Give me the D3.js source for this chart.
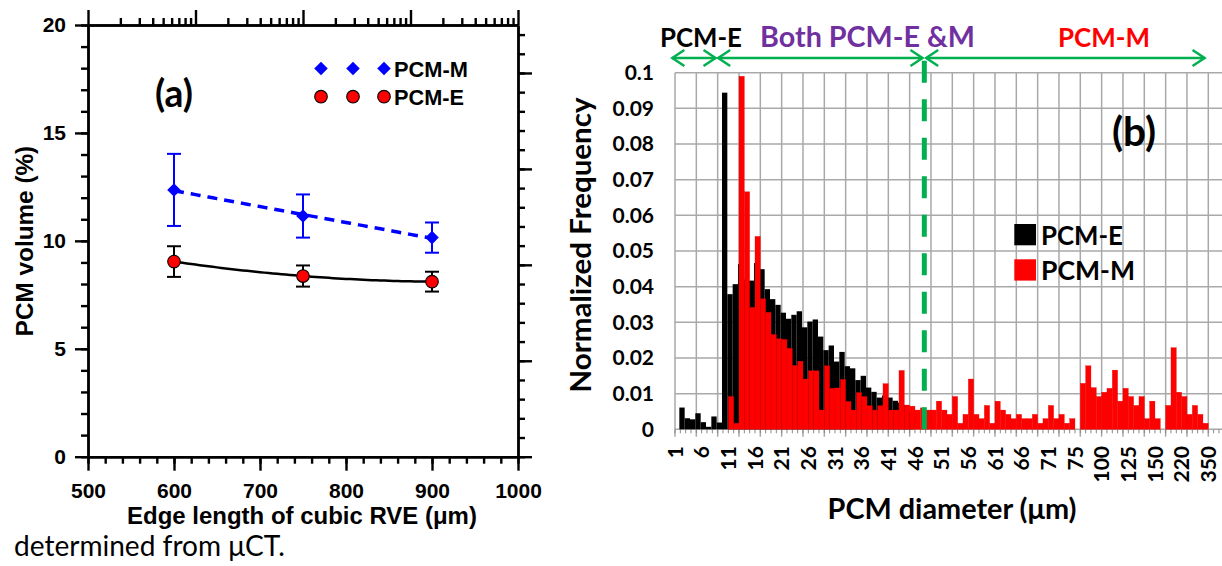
<!DOCTYPE html>
<html><head><meta charset="utf-8">
<script src="https://cdn.jsdelivr.net/npm/d3@7"></script>
<style>body{margin:0;background:#fff;} svg{display:block;}</style>
</head><body>
<svg id="chart" width="1222" height="566"></svg>
<script>
// ---------------- Panel (a) data ----------------
const rveEdge = [600, 750, 900];
const pcmMVolume = [12.36, 11.15, 10.15];
const pcmMError = [1.67, 1.0, 0.70];
const pcmEVolume = [9.04, 8.37, 8.11];
const pcmEError = [0.71, 0.49, 0.46];
const aXTicks = [500, 600, 700, 800, 900, 1000];
const aYTicks = [0, 5, 10, 15, 20];

// ---------------- Panel (b) data ----------------
// labels sit on every 5th bin edge (edges 0..100)
const diameterLabels = ["1","6","11","16","21","26","31","36","41","46","51","56","61","66","71","75","100","125","150","220","350"];
const pcmEFreq = [
 0, 0.0061, 0.0031, 0.0028, 0.0045, 0.0020, 0.0007, 0.0036, 0.0019, 0.0944,
 0.0379, 0.0407, 0.0463, 0.0420, 0.0417, 0.0466, 0.0449, 0.0393, 0.0365, 0.0349,
 0.0327, 0.0310, 0.0321, 0.0331, 0.0286, 0.0302, 0.0308, 0.0260, 0.0222, 0.0235,
 0.0190, 0.0217, 0.0177, 0.0171, 0.0138, 0.0150, 0.0117, 0.0105, 0.0089, 0.0095,
 0.0089, 0.0080, 0.0075, 0.0068, 0.0050, 0, 0, 0, 0, 0,
 0, 0, 0, 0, 0, 0, 0, 0, 0, 0,
 0, 0, 0, 0, 0, 0, 0, 0, 0, 0,
 0, 0, 0, 0, 0, 0, 0, 0, 0, 0,
 0, 0, 0, 0, 0, 0, 0, 0, 0, 0,
 0, 0, 0, 0, 0, 0, 0, 0, 0, 0];
const pcmMFreq = [
 0, 0, 0, 0, 0, 0, 0, 0, 0, 0,
 0.0092, 0.0017, 0.0990, 0.0666, 0.0342, 0.0541, 0.0366, 0.0328, 0.0266, 0.0254,
 0.0252, 0.0227, 0.0179, 0.0191, 0.0141, 0.0164, 0.0164, 0.0054, 0.0178, 0.0115,
 0.0116, 0.0140, 0.0078, 0.0054, 0.0103, 0.0092, 0.0066, 0.0054, 0.0066, 0.0128,
 0.0054, 0.0054, 0.0165, 0.0068, 0.0065, 0.0054, 0.0060, 0.0054, 0.0054, 0.0079,
 0.0054, 0.0042, 0.0092, 0.0017, 0.0042, 0.0141, 0.0042, 0.0030, 0.0067, 0.0017,
 0.0079, 0.0054, 0.0042, 0.0030, 0.0042, 0.0030, 0.0030, 0.0042, 0.0017, 0.0030,
 0.0067, 0.0030, 0.0042, 0.0017, 0.0030, 0, 0.0129, 0.0178, 0.0117, 0.0092,
 0.0104, 0.0115, 0.0166, 0.0079, 0.0115, 0.0092, 0.0067, 0.0092, 0.0030, 0.0079,
 0.0030, 0, 0.0067, 0.0229, 0.0104, 0.0092, 0.0042, 0.0067, 0.0042, 0.0017];
const freqTicks = [0, 0.01, 0.02, 0.03, 0.04, 0.05, 0.06, 0.07, 0.08, 0.09, 0.1];
const freqTickLabels = ["0","0.01","0.02","0.03","0.04","0.05","0.06","0.07","0.08","0.09","0.1"];
const seriesNames = ["PCM-E", "PCM-M"];

// ---------------- helpers ----------------
const svg = d3.select("#chart");
const ARIAL = "'Liberation Sans', Arial, sans-serif";
const CAL = "Lato, 'Open Sans', sans-serif";
function fitW(t, w) {
  const L = t.node().getComputedTextLength();
  const fs = +t.attr("font-size");
  t.attr("font-size", (fs * w / L).toFixed(2));
  return t;
}
function polyfit(xs, ys, deg) {
  const n = deg + 1;
  const A = Array.from({length: n}, () => new Array(n + 1).fill(0));
  xs.forEach((x, k) => {
    for (let i = 0; i < n; i++) {
      for (let j = 0; j < n; j++) A[i][j] += Math.pow(x, i + j);
      A[i][n] += ys[k] * Math.pow(x, i);
    }
  });
  for (let i = 0; i < n; i++) {
    let p = i;
    for (let r = i + 1; r < n; r++) if (Math.abs(A[r][i]) > Math.abs(A[p][i])) p = r;
    [A[i], A[p]] = [A[p], A[i]];
    for (let r = 0; r < n; r++) if (r !== i) {
      const f = A[r][i] / A[i][i];
      for (let c = i; c <= n; c++) A[r][c] -= f * A[i][c];
    }
  }
  const coef = A.map((row, i) => row[n] / A[i][i]);
  return x => coef.reduce((s, c, i) => s + c * Math.pow(x, i), 0);
}

// ================= Panel (a) =================
const ga = svg.append("g");
const ax = d3.scaleLinear().domain([500, 1000]).range([88, 518]);
const ay = d3.scaleLinear().domain([0, 20]).range([456.7, 25]);
const axTop = d3.scaleLog().domain([1, 1e4]).range([88, 518]);
const ayRight = d3.scaleLinear().domain([0, 4.5]).range([456.7, 25]);

function styleA(g) {
  g.selectAll("path,line").attr("stroke", "#000").attr("stroke-width", 2.4);
  g.selectAll("text").attr("font-family", ARIAL).attr("font-weight", "bold")
    .attr("font-size", 21).attr("fill", "#000");
}
// left
ga.append("g").attr("transform", "translate(88,0)")
  .call(d3.axisLeft(ay).tickValues(d3.range(0, 21)).tickSize(7).tickSizeOuter(0).tickFormat("")).call(styleA);
ga.append("g").attr("transform", "translate(88,0)")
  .call(d3.axisLeft(ay).tickValues(aYTicks).tickSize(13).tickSizeOuter(0).tickPadding(9)).call(styleA);
// bottom
ga.append("g").attr("transform", "translate(0,456.7)")
  .call(d3.axisBottom(ax).tickValues(d3.range(500, 1001, 20)).tickSize(7).tickSizeOuter(0).tickFormat("")).call(styleA);
ga.append("g").attr("transform", "translate(0,456.7)")
  .call(d3.axisBottom(ax).tickValues(aXTicks).tickFormat(d3.format("d")).tickSize(14).tickSizeOuter(0).tickPadding(12)).call(styleA);
// top (log)
const topMinor = [];
[1, 10, 100, 1000].forEach(d => { for (let m = 2; m <= 9; m++) topMinor.push(m * d); });
ga.append("g").attr("transform", "translate(0,25)")
  .call(d3.axisTop(axTop).tickValues(topMinor).tickSize(7).tickSizeOuter(0).tickFormat("")).call(styleA);
ga.append("g").attr("transform", "translate(0,25)")
  .call(d3.axisTop(axTop).tickValues([1, 10, 100, 1000, 10000]).tickSize(15).tickSizeOuter(0).tickFormat("")).call(styleA);
// right
ga.append("g").attr("transform", "translate(518,0)")
  .call(d3.axisRight(ayRight).tickValues(d3.range(0, 23).map(i => i * 0.2)).tickSize(7).tickSizeOuter(0).tickFormat("")).call(styleA);
ga.append("g").attr("transform", "translate(518,0)")
  .call(d3.axisRight(ayRight).tickValues([0, 1, 2, 3, 4]).tickSize(14).tickSizeOuter(0).tickFormat("")).call(styleA);

// titles
fitW(ga.append("text").attr("x", 302).attr("y", 524).attr("text-anchor", "middle")
  .attr("font-family", ARIAL).attr("font-weight", "bold").attr("font-size", 24)
  .text("Edge length of cubic RVE (μm)"), 350);
ga.append("text").attr("transform", "translate(33,241) rotate(-90)").attr("text-anchor", "middle")
  .attr("font-family", ARIAL).attr("font-weight", "bold").attr("font-size", 24.3)
  .text("PCM volume (%)");

// trend lines
const fitM = polyfit(rveEdge, pcmMVolume, 1);
const fitE = polyfit(rveEdge, pcmEVolume, 2);
const xsFit = d3.range(rveEdge[0], rveEdge[rveEdge.length - 1] + 0.1, 5);
const lineA = d3.line().x(d => ax(d[0])).y(d => ay(d[1]));
ga.append("path").attr("d", lineA(xsFit.map(x => [x, fitM(x)])))
  .attr("fill", "none").attr("stroke", "#0000ff").attr("stroke-width", 3.5).attr("stroke-dasharray", "10,7");
ga.append("path").attr("d", lineA(xsFit.map(x => [x, fitE(x)])))
  .attr("fill", "none").attr("stroke", "#000").attr("stroke-width", 2.5);

// error bars
function errBars(vals, errs, color) {
  const g = ga.append("g").attr("stroke", color).attr("stroke-width", 2);
  rveEdge.forEach((x, i) => {
    const cx = ax(x), y1 = ay(vals[i] + errs[i]), y2 = ay(vals[i] - errs[i]);
    g.append("line").attr("x1", cx).attr("x2", cx).attr("y1", y1).attr("y2", y2);
    g.append("line").attr("x1", cx - 7).attr("x2", cx + 7).attr("y1", y1).attr("y2", y1);
    g.append("line").attr("x1", cx - 7).attr("x2", cx + 7).attr("y1", y2).attr("y2", y2);
  });
}
errBars(pcmMVolume, pcmMError, "#0000ff");
errBars(pcmEVolume, pcmEError, "#000");

const diamond = d3.symbol().type(d3.symbolSquare).size(92);
function drawDiamond(g, x, y) {
  g.append("path").attr("d", diamond()).attr("transform", `translate(${x},${y}) rotate(45)`).attr("fill", "#0000ff");
}
function drawCircle(g, x, y) {
  g.append("circle").attr("cx", x).attr("cy", y).attr("r", 6.3).attr("fill", "#ff0000").attr("stroke", "#000").attr("stroke-width", 1.1);
}
rveEdge.forEach((x, i) => drawDiamond(ga, ax(x), ay(pcmMVolume[i])));
rveEdge.forEach((x, i) => drawCircle(ga, ax(x), ay(pcmEVolume[i])));

// legend (a)
[321, 353, 384].forEach(x => { drawDiamond(ga, x, 68.5); drawCircle(ga, x, 96.7); });
fitW(ga.append("text").attr("x", 394).attr("y", 76.5).attr("font-family", ARIAL).attr("font-weight", "bold").attr("font-size", 21).text("PCM-M"), 74);
fitW(ga.append("text").attr("x", 394).attr("y", 104.5).attr("font-family", ARIAL).attr("font-weight", "bold").attr("font-size", 21).text("PCM-E"), 70);
fitW(ga.append("text").attr("x", 155).attr("y", 107).attr("font-family", CAL).attr("font-weight", "bold").attr("font-size", 30).text("(a)"), 38);

// caption
fitW(svg.append("text").attr("x", 14).attr("y", 556).attr("font-family", CAL).attr("font-size", 24).attr("fill", "#000")
  .text("determined from μCT."), 271);

// ================= Panel (b) =================
const gb = svg.append("g");
const nBins = pcmMFreq.length;
const bx = d3.scaleLinear().domain([0, nBins]).range([675, 1208.3]);
const by = d3.scaleLinear().domain([0, 0.1]).range([429.3, 72.7]);
const GRID = "#a9a9a9";

// horizontal gridlines
gb.append("g").selectAll("line").data(freqTicks).join("line")
  .attr("x1", 675).attr("x2", 1222).attr("y1", d => by(d)).attr("y2", d => by(d))
  .attr("stroke", GRID).attr("stroke-width", 1.5);
// vertical gridlines (every 4 bins) extending below axis as ticks
gb.append("g").selectAll("line").data(d3.range(0, nBins + 1, 4)).join("line")
  .attr("x1", d => bx(d)).attr("x2", d => bx(d)).attr("y1", by(0.1)).attr("y2", by(0) + 7.5)
  .attr("stroke", GRID).attr("stroke-width", 1.5);
// minor ticks every bin
gb.append("g").selectAll("line").data(d3.range(0, nBins + 3)).join("line")
  .attr("x1", d => bx(d)).attr("x2", d => bx(d)).attr("y1", by(0)).attr("y2", by(0) + 4)
  .attr("stroke", "#888").attr("stroke-width", 1);

// bars
gb.append("g").selectAll("rect").data(pcmEFreq).join("rect")
  .attr("x", (d, i) => bx(i) - 1).attr("width", bx(1) - bx(0))
  .attr("y", d => by(d)).attr("height", d => by(0) - by(d))
  .attr("fill", "#000");
gb.append("g").selectAll("rect").data(pcmMFreq).join("rect")
  .attr("x", (d, i) => bx(i)).attr("width", bx(1) - bx(0))
  .attr("y", d => by(d)).attr("height", d => by(0) - by(d))
  .attr("fill", "#ff0000").attr("stroke", "#e00000").attr("stroke-width", 0.3);

// y tick labels
gb.append("g").attr("transform", "translate(675,0)")
  .call(d3.axisLeft(by).tickValues(freqTicks).tickFormat((d, i) => freqTickLabels[i]).tickSize(0).tickPadding(21))
  .call(g => g.select(".domain").remove())
  .call(g => g.selectAll("text").attr("font-family", CAL).attr("font-weight", "bold").attr("font-size", 21).attr("fill", "#000"));

// x tick labels (rotated, on bin edges)
gb.append("g").selectAll("text").data(diameterLabels).join("text")
  .attr("transform", (d, i) => `translate(${bx(i * 5)},446) rotate(-90)`)
  .attr("text-anchor", "end").attr("dy", "0.36em")
  .attr("font-family", CAL).attr("font-weight", "bold").attr("font-size", 21).attr("fill", "#000")
  .text(d => d);

// axis titles
fitW(gb.append("text").attr("x", 952).attr("y", 519).attr("text-anchor", "middle")
  .attr("font-family", CAL).attr("font-weight", "bold").attr("font-size", 27).text("PCM diameter (μm)"), 249);
fitW(gb.append("text").attr("transform", "translate(591,245) rotate(-90)").attr("text-anchor", "middle")
  .attr("font-family", CAL).attr("font-weight", "bold").attr("font-size", 27).text("Normalized Frequency"), 295);

// green dashed divider
const GREEN = "#00b050";
gb.append("line").attr("x1", bx(46.75)).attr("x2", bx(46.75)).attr("y1", by(0)).attr("y2", 58)
  .attr("stroke", GREEN).attr("stroke-width", 5).attr("stroke-dasharray", "22,16.5");

// arrows
function dblArrow(x1, x2, y) {
  const g = gb.append("g").attr("stroke", GREEN).attr("stroke-width", 2.5).attr("fill", "none");
  g.append("line").attr("x1", x1).attr("x2", x2).attr("y1", y).attr("y2", y);
  g.append("path").attr("d", `M${x1 + 12},${y - 8}L${x1},${y}L${x1 + 12},${y + 8}`);
  g.append("path").attr("d", `M${x2 - 12},${y - 8}L${x2},${y}L${x2 - 12},${y + 8}`);
}
dblArrow(bx(-0.5), bx(7.6), 58);
dblArrow(bx(8.1), bx(46.4), 58);
dblArrow(bx(47.1), bx(99.3), 58);

// top region labels
fitW(gb.append("text").attr("x", 660).attr("y", 47).attr("font-family", CAL).attr("font-weight", "bold").attr("font-size", 26).attr("fill", "#000").text("PCM-E"), 82);
fitW(gb.append("text").attr("x", 760).attr("y", 47).attr("font-family", CAL).attr("font-weight", "bold").attr("font-size", 26).attr("fill", "#7030a0").text("Both PCM-E &M"), 215);
fitW(gb.append("text").attr("x", 1058).attr("y", 47).attr("font-family", CAL).attr("font-weight", "bold").attr("font-size", 26).attr("fill", "#ff0000").text("PCM-M"), 92);

// (b) label
fitW(gb.append("text").attr("x", 1112).attr("y", 146).attr("font-family", CAL).attr("font-weight", "bold").attr("font-size", 30).text("(b)"), 44);

// legend (b)
const legColors = ["#000", "#ff0000"];
seriesNames.forEach((name, i) => {
  const y0 = 224 + i * 35.3;
  gb.append("rect").attr("x", 1014.3).attr("y", y0).attr("width", 21.7).attr("height", 21.3).attr("fill", legColors[i]);
  fitW(gb.append("text").attr("x", 1041).attr("y", y0 + 21).attr("font-family", CAL).attr("font-weight", "bold")
    .attr("font-size", 27).attr("fill", "#000").text(name), i === 0 ? 82 : 94);
});
</script>
</body></html>
